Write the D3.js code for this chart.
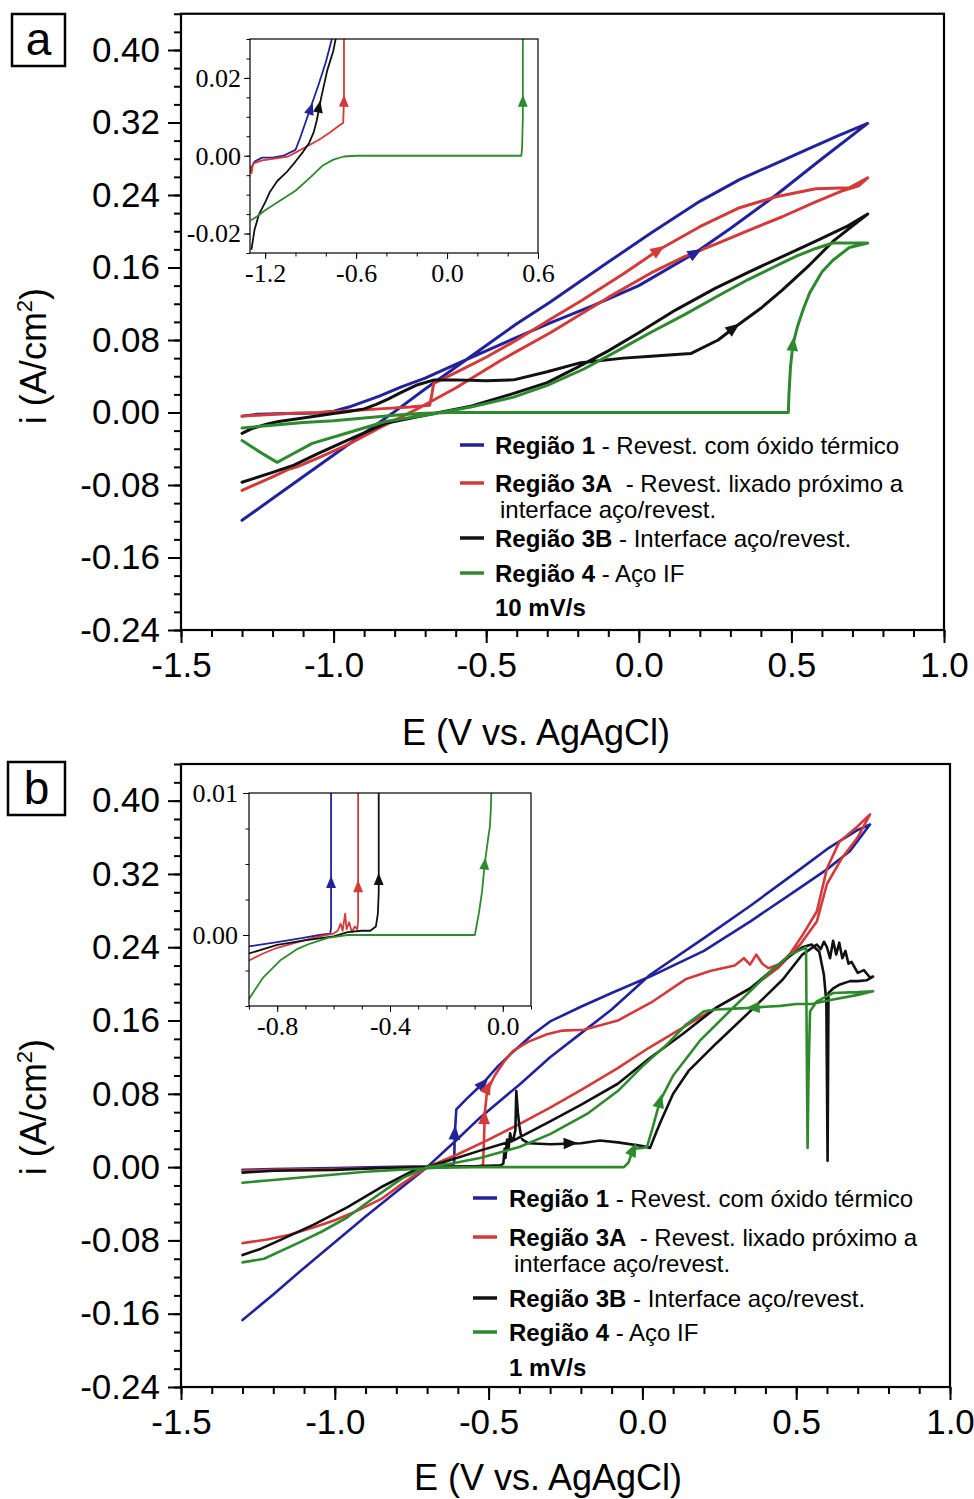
<!DOCTYPE html>
<html><head><meta charset="utf-8">
<script src="https://cdn.jsdelivr.net/npm/d3@7/dist/d3.min.js"></script>
<style>body{margin:0;background:#fff}svg{display:block}</style>
</head><body>
<svg id="chart" width="974" height="1499"></svg>
<script>
// ---------------- DATA ----------------
const seriesNames = ["Região 1", "Região 3A", "Região 3B", "Região 4"];
const seriesDesc = [" - Revest. com óxido térmico", "  - Revest. lixado próximo a", " - Interface aço/revest.", " - Aço IF"];
const seriesDesc2 = ["", "interface aço/revest.", "", ""];
const scanRates = ["10 mV/s", "1 mV/s"];

const xTicksMain = [-1.5, -1.0, -0.5, 0.0, 0.5, 1.0];
const yTicksMain = [-0.24, -0.16, -0.08, 0.00, 0.08, 0.16, 0.24, 0.32, 0.40];
const xTicksInsetA = [-1.2, -0.6, 0.0, 0.6];
const yTicksInsetA = [-0.02, 0.00, 0.02];
const xTicksInsetB = [-0.8, -0.4, 0.0];
const yTicksInsetB = [0.00, 0.01];

// Panel a (10 mV/s) – [E, i]
const a_blue = [[-1.30,-0.004],[-1.25,-0.002],[-1.15,-0.001],[-1.05,-0.0005],[-1.00,0.0015],[-0.95,0.006],[-0.90,0.012],[-0.85,0.018],[-0.78,0.028],[-0.70,0.038],[-0.60,0.053],[-0.50,0.068],[-0.40,0.083],[-0.29,0.099],[-0.15,0.118],[0.00,0.140],[0.184,0.176],[0.30,0.203],[0.45,0.240],[0.60,0.280],[0.75,0.319],
 [0.65,0.305],[0.55,0.290],[0.45,0.275],[0.33,0.257],[0.20,0.233],[0.04,0.198],[-0.10,0.166],[-0.20,0.143],[-0.29,0.122],[-0.40,0.098],[-0.50,0.074],[-0.60,0.050],[-0.70,0.026],[-0.80,0.001],[-0.90,-0.023],[-1.00,-0.047],[-1.10,-0.071],[-1.20,-0.095],[-1.30,-0.119]];
const a_red = [[-1.30,-0.004],[-1.25,-0.003],[-1.15,-0.001],[-1.05,0.000],[-0.95,0.002],[-0.85,0.004],[-0.75,0.006],[-0.685,0.008],[-0.678,0.02],[-0.672,0.032],[-0.60,0.044],[-0.50,0.061],[-0.40,0.080],[-0.29,0.103],[-0.19,0.123],[-0.05,0.153],[0.063,0.179],[0.20,0.205],[0.33,0.226],[0.45,0.238],[0.58,0.247],[0.69,0.248],[0.75,0.259],
 [0.72,0.250],[0.67,0.245],[0.57,0.231],[0.47,0.216],[0.36,0.201],[0.26,0.187],[0.15,0.172],[0.04,0.154],[-0.10,0.127],[-0.29,0.088],[-0.45,0.058],[-0.60,0.027],[-0.72,0.005],[-0.85,-0.017],[-0.95,-0.035],[-1.05,-0.050],[-1.12,-0.060],[-1.15,-0.063],[-1.20,-0.071],[-1.30,-0.086]];
const a_black = [[-1.30,-0.023],[-1.27,-0.018],[-1.22,-0.013],[-1.18,-0.010],[-1.10,-0.006],[-1.00,-0.001],[-0.95,0.001],[-0.90,0.004],[-0.86,0.009],[-0.82,0.015],[-0.78,0.022],[-0.73,0.030],[-0.67,0.036],[-0.60,0.036],[-0.50,0.035],[-0.41,0.036],[-0.30,0.045],[-0.19,0.055],[-0.05,0.060],[0.04,0.062],[0.17,0.065],[0.26,0.080],[0.31,0.093],[0.40,0.115],[0.47,0.135],[0.56,0.163],[0.64,0.190],[0.75,0.219],
 [0.68,0.205],[0.58,0.189],[0.47,0.172],[0.36,0.155],[0.25,0.137],[0.12,0.113],[0.00,0.088],[-0.10,0.068],[-0.20,0.050],[-0.30,0.033],[-0.42,0.020],[-0.55,0.007],[-0.70,-0.003],[-0.83,-0.012],[-0.95,-0.030],[-1.05,-0.045],[-1.13,-0.058],[-1.20,-0.066],[-1.30,-0.077]];
const a_green = [[-1.30,-0.017],[-1.20,-0.014],[-1.10,-0.011],[-1.00,-0.009],[-0.90,-0.006],[-0.80,-0.003],[-0.72,-0.001],[-0.62,0.000],[-0.30,0.000],[0.00,0.000],[0.30,0.000],[0.49,0.000],[0.492,0.020],[0.497,0.050],[0.505,0.075],[0.52,0.095],[0.54,0.115],[0.56,0.132],[0.60,0.155],[0.636,0.168],[0.69,0.182],[0.75,0.187],
 [0.70,0.187],[0.636,0.187],[0.58,0.181],[0.52,0.173],[0.47,0.165],[0.36,0.147],[0.256,0.128],[0.15,0.108],[0.037,0.088],[-0.07,0.068],[-0.18,0.048],[-0.30,0.030],[-0.41,0.017],[-0.55,0.006],[-0.68,-0.002],[-0.83,-0.010],[-0.95,-0.022],[-1.07,-0.034],[-1.13,-0.045],[-1.185,-0.055],[-1.24,-0.044],[-1.30,-0.031]];
const a_arrows = [[0,0.184,0.176],[1,0.063,0.179],[2,0.31,0.093],[3,0.505,0.075]];

// Inset a
const ai_blue = [[-1.29,-0.003],[-1.27,-0.0015],[-1.22,-0.0005],[-1.15,-0.0005],[-1.08,0.000],[-1.00,0.0015],[-0.97,0.0045],[-0.93,0.009],[-0.89,0.0135],[-0.85,0.018],[-0.80,0.024],[-0.76,0.030],[-0.74,0.033]];
const ai_red = [[-1.30,-0.003],[-1.29,-0.0045],[-1.28,-0.002],[-1.22,-0.0012],[-1.15,-0.0008],[-1.05,-0.0002],[-1.00,0.0008],[-0.92,0.0025],[-0.85,0.004],[-0.78,0.0058],[-0.72,0.0075],[-0.685,0.0085],[-0.68,0.015],[-0.68,0.033]];
const ai_black = [[-1.29,-0.024],[-1.27,-0.019],[-1.24,-0.015],[-1.20,-0.012],[-1.17,-0.0094],[-1.12,-0.0065],[-1.06,-0.0043],[-1.00,-0.0015],[-0.95,0.001],[-0.91,0.0033],[-0.88,0.006],[-0.86,0.009],[-0.83,0.015],[-0.79,0.022],[-0.75,0.027],[-0.72,0.033]];
const ai_green = [[-1.29,-0.0165],[-1.25,-0.0155],[-1.20,-0.014],[-1.10,-0.0115],[-1.00,-0.009],[-0.90,-0.0055],[-0.82,-0.0025],[-0.75,-0.001],[-0.68,-0.0002],[-0.60,0.000],[0.00,0.000],[0.49,0.000],[0.495,0.002],[0.50,0.010],[0.50,0.033]];
const ai_arrows = [[0,-0.90,0.012],[2,-0.845,0.0125],[1,-0.68,0.014],[3,0.50,0.014]];

// Panel b (1 mV/s)
const b_blue = [[-1.30,-0.003],[-1.20,-0.002],[-1.00,-0.001],[-0.85,0.000],[-0.70,0.001],[-0.62,0.003],[-0.612,0.004],[-0.610,0.035],[-0.605,0.063],[-0.57,0.075],[-0.52,0.091],[-0.47,0.110],[-0.42,0.126],[-0.36,0.144],[-0.30,0.159],[-0.20,0.175],[-0.10,0.190],[0.025,0.208],[0.20,0.236],[0.35,0.268],[0.50,0.302],[0.60,0.325],[0.675,0.345],[0.74,0.374],
 [0.70,0.368],[0.60,0.347],[0.50,0.322],[0.35,0.285],[0.20,0.250],[0.025,0.210],[-0.10,0.172],[-0.20,0.146],[-0.30,0.120],[-0.40,0.090],[-0.528,0.054],[-0.60,0.031],[-0.70,0.000],[-0.80,-0.027],[-0.90,-0.054],[-1.00,-0.082],[-1.10,-0.110],[-1.20,-0.139],[-1.30,-0.167]];
const b_red = [[-1.30,-0.004],[-1.20,-0.003],[-1.00,-0.002],[-0.85,-0.001],[-0.70,0.000],[-0.60,0.001],[-0.53,0.001],[-0.518,0.002],[-0.515,0.030],[-0.512,0.060],[-0.505,0.083],[-0.48,0.100],[-0.45,0.115],[-0.42,0.127],[-0.37,0.137],[-0.31,0.145],[-0.26,0.149],[-0.19,0.150],[-0.08,0.160],[0.03,0.180],[0.14,0.205],[0.22,0.214],[0.30,0.220],[0.33,0.228],[0.35,0.221],[0.37,0.232],[0.39,0.222],[0.41,0.217],[0.45,0.222],[0.48,0.233],[0.522,0.254],[0.567,0.279],[0.60,0.326],[0.64,0.355],[0.70,0.372],[0.74,0.385],
 [0.70,0.360],[0.65,0.338],[0.60,0.309],[0.567,0.268],[0.513,0.243],[0.44,0.217],[0.35,0.195],[0.25,0.176],[0.13,0.152],[0.02,0.130],[-0.08,0.108],[-0.20,0.084],[-0.30,0.065],[-0.40,0.047],[-0.50,0.030],[-0.60,0.014],[-0.70,0.000],[-0.78,-0.018],[-0.85,-0.035],[-0.93,-0.048],[-1.00,-0.058],[-1.07,-0.066],[-1.15,-0.074],[-1.22,-0.079],[-1.30,-0.083]];
const b_black = [[-1.30,-0.006],[-1.20,-0.004],[-1.00,-0.003],[-0.85,-0.001],[-0.70,0.000],[-0.55,0.001],[-0.46,0.002],[-0.452,0.004],[-0.448,0.020],[-0.445,0.010],[-0.44,0.030],[-0.435,0.020],[-0.43,0.037],[-0.425,0.028],[-0.42,0.030],[-0.413,0.040],[-0.41,0.083],[-0.405,0.060],[-0.40,0.045],[-0.395,0.035],[-0.39,0.030],[-0.37,0.026],[-0.30,0.025],[-0.20,0.026],[-0.138,0.029],[-0.08,0.027],[0.00,0.023],[0.025,0.021],[0.045,0.038],[0.06,0.050],[0.10,0.080],[0.15,0.105],[0.24,0.135],[0.35,0.170],[0.457,0.205],[0.52,0.232],[0.567,0.243],
 [0.58,0.238],[0.59,0.246],[0.60,0.240],[0.61,0.228],[0.62,0.247],[0.63,0.232],[0.64,0.245],[0.65,0.228],[0.66,0.236],[0.67,0.222],[0.68,0.224],[0.70,0.212],[0.72,0.215],[0.74,0.207],[0.75,0.208],
 [0.73,0.204],[0.70,0.203],[0.675,0.203],[0.64,0.199],[0.62,0.195],[0.605,0.190],[0.602,0.007],[0.598,0.180],[0.59,0.210],[0.575,0.235],[0.55,0.243],[0.52,0.240],[0.457,0.225],[0.35,0.195],[0.24,0.174],[0.13,0.145],[0.02,0.118],[-0.08,0.091],[-0.20,0.068],[-0.30,0.050],[-0.42,0.029],[-0.528,0.018],[-0.65,0.005],[-0.745,-0.004],[-0.85,-0.022],[-0.96,-0.044],[-1.07,-0.063],[-1.18,-0.080],[-1.24,-0.089],[-1.30,-0.096]];
const b_green = [[-1.30,-0.017],[-1.20,-0.014],[-1.10,-0.011],[-1.00,-0.008],[-0.90,-0.005],[-0.80,-0.003],[-0.745,-0.002],[-0.65,-0.0005],[-0.55,0.000],[-0.30,0.000],[-0.06,0.000],[-0.045,0.005],[-0.035,0.015],[-0.028,0.020],[0.000,0.021],[0.015,0.022],[0.035,0.045],[0.057,0.072],[0.10,0.100],[0.187,0.138],[0.295,0.174],[0.405,0.210],[0.48,0.232],[0.52,0.238],[0.532,0.240],[0.535,0.100],[0.537,0.021],[0.54,0.100],[0.545,0.170],[0.567,0.181],[0.62,0.190],[0.70,0.191],[0.75,0.192],
 [0.70,0.188],[0.62,0.183],[0.55,0.178],[0.50,0.178],[0.45,0.176],[0.40,0.175],[0.36,0.174],[0.30,0.173],[0.24,0.172],[0.20,0.170],[0.14,0.155],[0.08,0.134],[0.00,0.110],[-0.08,0.083],[-0.18,0.058],[-0.30,0.036],[-0.40,0.022],[-0.528,0.010],[-0.62,0.004],[-0.70,0.000],[-0.78,-0.012],[-0.853,-0.029],[-0.90,-0.040],[-0.96,-0.055],[-1.04,-0.070],[-1.12,-0.083],[-1.23,-0.100],[-1.30,-0.104]];
const b_arrows = [[0,-0.61,0.037],[0,-0.518,0.091],[1,-0.514,0.054],[1,-0.503,0.087],[2,-0.235,0.026],[3,-0.03,0.019],[3,0.057,0.072],[3,0.36,0.174]];

// Inset b
const bi_blue = [[-0.90,-0.0008],[-0.80,-0.0005],[-0.708,-0.0002],[-0.65,0.000],[-0.612,0.0001],[-0.609,0.0005],[-0.609,0.011]];
const bi_red = [[-0.90,-0.0018],[-0.85,-0.0013],[-0.80,-0.0009],[-0.708,-0.0004],[-0.65,-0.0001],[-0.60,0.0001],[-0.585,0.0003],[-0.575,0.0008],[-0.568,0.0003],[-0.559,0.0015],[-0.554,0.0004],[-0.545,0.0009],[-0.535,0.0002],[-0.525,0.0006],[-0.516,0.0004],[-0.513,0.001],[-0.513,0.011]];
const bi_black = [[-0.90,-0.0013],[-0.80,-0.0007],[-0.708,-0.0004],[-0.60,-0.0001],[-0.55,0.0002],[-0.50,0.0003],[-0.47,0.0003],[-0.45,0.0006],[-0.443,0.0015],[-0.44,0.003],[-0.44,0.011]];
const bi_green = [[-0.90,-0.0045],[-0.85,-0.0030],[-0.79,-0.0018],[-0.73,-0.0010],[-0.683,-0.0006],[-0.62,-0.0002],[-0.55,0.000],[-0.30,0.000],[-0.099,0.000],[-0.085,0.0015],[-0.074,0.003],[-0.064,0.005],[-0.052,0.0068],[-0.046,0.0076],[-0.042,0.009],[-0.04,0.011]];
const bi_arrows = [[0,-0.609,0.0037],[1,-0.513,0.0034],[2,-0.44,0.0039],[3,-0.064,0.005]];

// ---------------- DRAWING ----------------
const colors = ["#22229a", "#d33a3a", "#111111", "#2d8a2d"];
const svg = d3.select("#chart");
svg.append("rect").attr("width", 974).attr("height", 1499).attr("fill", "#fff");
const SANS = "'Liberation Sans', Arial, sans-serif";
const SERIF = "'Liberation Serif', 'Times New Roman', serif";

function minorRange(a, b, step) { return d3.range(Math.round((b - a) / step) + 1).map(k => +(a + k * step).toFixed(6)); }

function drawAxes(g, x, y, o) {
  const xMaj = d3.axisBottom(x).tickValues(o.xt).tickSize(o.maj).tickPadding(o.xpad).tickFormat(v => v.toFixed(o.xdec));
  const xMin = d3.axisBottom(x).tickValues(o.xminor).tickSize(o.min).tickFormat("");
  const yMaj = d3.axisLeft(y).tickValues(o.yt).tickSize(o.maj).tickPadding(o.ypad).tickFormat(v => v.toFixed(o.ydec));
  const yMin = d3.axisLeft(y).tickValues(o.yminor).tickSize(o.min).tickFormat("");
  const y0 = y.range()[0], x0 = x.range()[0];
  [xMin, xMaj].forEach(ax => {
    const a = g.append("g").attr("transform", `translate(0,${y0})`).call(ax);
    a.select(".domain").remove();
    a.selectAll("line").attr("stroke", "#000").attr("stroke-width", o.tw);
    a.selectAll("text").attr("font-family", o.font).attr("font-size", o.fs).attr("fill", "#000");
  });
  [yMin, yMaj].forEach(ax => {
    const a = g.append("g").attr("transform", `translate(${x0},0)`).call(ax);
    a.select(".domain").remove();
    a.selectAll("line").attr("stroke", "#000").attr("stroke-width", o.tw);
    a.selectAll("text").attr("font-family", o.font).attr("font-size", o.fs).attr("fill", "#000");
  });
  g.append("rect").attr("x", x.range()[0]).attr("y", y.range()[1])
    .attr("width", x.range()[1] - x.range()[0]).attr("height", y.range()[0] - y.range()[1])
    .attr("fill", "none").attr("stroke", "#000").attr("stroke-width", o.fw);
}

function drawCurves(g, x, y, list, width, clipId) {
  const line = d3.line().x(d => x(d[0])).y(d => y(d[1])).curve(d3.curveLinear);
  const cg = g.append("g");
  if (clipId) cg.attr("clip-path", `url(#${clipId})`);
  list.forEach((data, k) => {
    cg.append("path").datum(data).attr("d", line).attr("fill", "none")
      .attr("stroke", colors[k]).attr("stroke-width", width).attr("stroke-linejoin", "round").attr("stroke-linecap", "round");
  });
  return cg;
}

function drawArrows(g, x, y, list, arrows, size) {
  arrows.forEach(([s, E, i]) => {
    const data = list[s];
    const px = x(E), py = y(i);
    let best = 0, bd = Infinity;
    for (let k = 0; k < data.length - 1; k++) {
      const ax = x(data[k][0]), ay = y(data[k][1]), bx = x(data[k + 1][0]), by = y(data[k + 1][1]);
      const dx = bx - ax, dy = by - ay, L = dx * dx + dy * dy || 1;
      let t = ((px - ax) * dx + (py - ay) * dy) / L; t = Math.max(0, Math.min(1, t));
      const d = Math.hypot(ax + t * dx - px, ay + t * dy - py);
      if (d < bd) { bd = d; best = k; }
    }
    const a = data[best], b = data[best + 1];
    const ang = Math.atan2(y(b[1]) - y(a[1]), x(b[0]) - x(a[0])) * 180 / Math.PI;
    g.append("path").attr("d", `M${size * 0.6},0 L${-size * 0.5},${-size * 0.45} L${-size * 0.5},${size * 0.45}Z`)
      .attr("transform", `translate(${px},${py}) rotate(${ang})`).attr("fill", colors[s]);
  });
}

function drawPanel(p) {
  const g = svg.append("g");
  const x = d3.scaleLinear().domain([-1.5, 1.0]).range(p.xr);
  const y = d3.scaleLinear().domain([-0.24, 0.44]).range(p.yr);
  drawAxes(g, x, y, { xt: xTicksMain, yt: yTicksMain, xminor: minorRange(-1.5, 1.0, 0.1), yminor: minorRange(-0.24, 0.44, 0.02),
    maj: 13, min: 7, xpad: 9, ypad: 8, xdec: 1, ydec: 2, font: SANS, fs: 35, tw: 2, fw: 2.2 });
  drawCurves(g, x, y, p.curves, p.lw, null);
  drawArrows(g, x, y, p.curves, p.arrows, 13);

  // axis titles
  g.append("text").attr("x", p.xtitle[0]).attr("y", p.xtitle[1]).attr("text-anchor", "middle")
    .attr("font-family", SANS).attr("font-size", 36).text("E (V vs. AgAgCl)");
  const yt = g.append("text").attr("transform", `translate(${p.ytitle[0]},${p.ytitle[1]}) rotate(-90)`)
    .attr("text-anchor", "middle").attr("font-family", SANS).attr("font-size", 36);
  yt.append("tspan").text("i (A/cm");
  yt.append("tspan").attr("font-size", 22).attr("dy", -14).text("2");
  yt.append("tspan").attr("dy", 14).text(")");

  // panel letter
  g.append("rect").attr("x", p.box[0]).attr("y", p.box[1]).attr("width", p.box[2]).attr("height", p.box[3])
    .attr("fill", "#fff").attr("stroke", "#000").attr("stroke-width", 2.5);
  g.append("text").attr("x", p.box[0] + p.box[2] / 2).attr("y", p.box[1] + p.box[3] / 2 + 15).attr("text-anchor", "middle")
    .attr("font-family", SANS).attr("font-size", 46).text(p.letter);

  // legend
  const L = p.legend;
  const lg = g.append("g").attr("font-family", SANS).attr("font-size", 24).attr("fill", "#000");
  const rows = [L.rows[0], L.rows[1], L.rows[3], L.rows[4]];
  seriesNames.forEach((nm, k) => {
    lg.append("line").attr("x1", L.sx[0]).attr("x2", L.sx[1]).attr("y1", rows[k]).attr("y2", rows[k])
      .attr("stroke", colors[k]).attr("stroke-width", 3.5);
    const t = lg.append("text").attr("x", L.tx).attr("y", rows[k] + 8.5);
    t.append("tspan").attr("font-weight", "bold").text(nm);
    t.append("tspan").attr("xml:space", "preserve").style("white-space", "pre").text(seriesDesc[k]);
    if (seriesDesc2[k]) lg.append("text").attr("x", L.tx2).attr("y", L.rows[2] + 8.5).text(seriesDesc2[k]);
  });
  lg.append("text").attr("x", L.tx).attr("y", L.rows[5] + 8.5).attr("font-weight", "bold").text(p.rate);

  // inset
  const I = p.inset;
  const ix = d3.scaleLinear().domain(I.xd).range(I.xr);
  const iy = d3.scaleLinear().domain(I.yd).range(I.yr);
  const ig = g.append("g");
  ig.append("rect").attr("x", I.xr[0]).attr("y", I.yr[1]).attr("width", I.xr[1] - I.xr[0]).attr("height", I.yr[0] - I.yr[1]).attr("fill", "#fff");
  svg.append("defs").append("clipPath").attr("id", I.clip).append("rect")
    .attr("x", I.xr[0]).attr("y", I.yr[1]).attr("width", I.xr[1] - I.xr[0]).attr("height", I.yr[0] - I.yr[1]);
  drawCurves(ig, ix, iy, I.curves, 1.8, I.clip);
  drawArrows(ig, ix, iy, I.curves, I.arrows, 11);
  drawAxes(ig, ix, iy, { xt: I.xt, yt: I.yt, xminor: I.xminor, yminor: I.yminor, maj: 6, min: 3.5, xpad: 5, ypad: I.ypad,
    xdec: 1, ydec: 2, font: SERIF, fs: 26, tw: 1, fw: 1.2 });
}

drawPanel({
  letter: "a", rate: scanRates[0], xr: [181, 944], yr: [630, 13.75], lw: 3,
  curves: [a_blue, a_red, a_black, a_green], arrows: a_arrows,
  xtitle: [536, 745], ytitle: [46, 356], box: [12, 14, 53, 52],
  legend: { rows: [445, 483, 509, 538, 573, 607], sx: [460, 484], tx: 495, tx2: 500 },
  inset: { xd: [-1.3, 0.6], yd: [-0.025, 0.03], xr: [250, 538], yr: [253, 39], clip: "clipA",
    curves: [ai_blue, ai_red, ai_black, ai_green], arrows: ai_arrows,
    xt: xTicksInsetA, yt: yTicksInsetA, xminor: minorRange(-1.2, 0.6, 0.2), yminor: minorRange(-0.025, 0.03, 0.005), ypad: 3 }
});
drawPanel({
  letter: "b", rate: scanRates[1], xr: [181, 950], yr: [1387, 764], lw: 2.6,
  curves: [b_blue, b_red, b_black, b_green], arrows: b_arrows,
  xtitle: [548, 1490], ytitle: [46, 1107], box: [8, 762, 57, 53],
  legend: { rows: [1198, 1237, 1263, 1298, 1332, 1367], sx: [473, 497], tx: 509, tx2: 514 },
  inset: { xd: [-0.9, 0.1], yd: [-0.005, 0.01], xr: [249, 531], yr: [1006, 793], clip: "clipB",
    curves: [bi_blue, bi_red, bi_black, bi_green], arrows: bi_arrows,
    xt: xTicksInsetB, yt: yTicksInsetB, xminor: minorRange(-0.9, 0.1, 0.1), yminor: minorRange(-0.005, 0.01, 0.0025), ypad: 5 }
});
</script>
</body></html>
